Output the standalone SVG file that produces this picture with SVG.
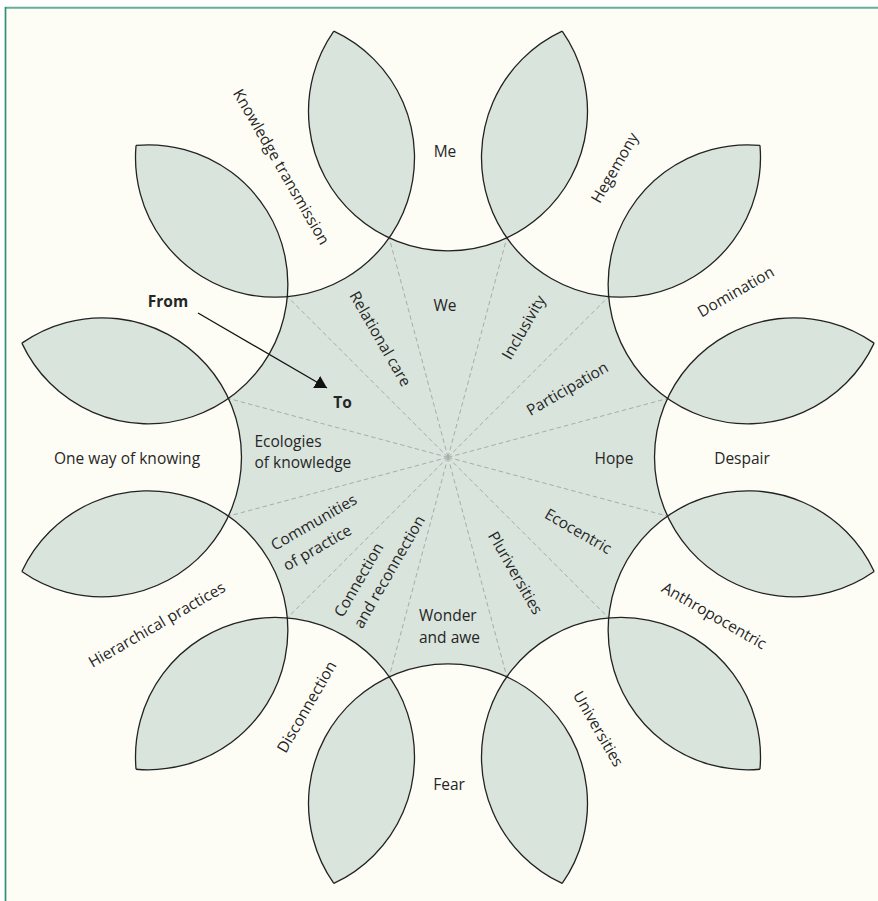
<svg xmlns="http://www.w3.org/2000/svg" width="878" height="901" viewBox="0 0 878 901">
<defs>
<style>
.bg{fill:#fdfdf6}
.fill{fill:#d9e4dc;stroke:none}
.arc{fill:none;stroke:#222;stroke-width:1.3}
.dash{stroke:#a6aeaa;stroke-width:1;stroke-dasharray:4.5 3;fill:none}
text{font-family:"Open Sans","Noto Sans","DejaVu Sans",sans-serif;font-size:15.5px;fill:#262626}
.b{font-weight:bold}
.c{text-anchor:middle}
</style>
<marker id="ah" viewBox="0 0 12 14" refX="12" refY="7" markerWidth="12" markerHeight="14" markerUnits="userSpaceOnUse" orient="auto">
<path d="M0,0 L12,7 L0,14 Z" fill="#111"/>
</marker>
</defs>
<rect x="0" y="0" width="878" height="901" fill="#ffffff"/>
<rect class="bg" x="5.5" y="7.5" width="872.5" height="893.5"/>
<line x1="5" y1="7.7" x2="878" y2="7.7" stroke="#62b09c" stroke-width="2"/>
<line x1="5.5" y1="7" x2="5.5" y2="901" stroke="#2f8f78" stroke-width="1.7"/>

<g id="shading">
<path class="fill" d="M389.18 237.79 A139.5 139.5 0 0 0 506.82 237.79 A139.5 139.5 0 0 0 608.69 296.61 A139.5 139.5 0 0 0 667.51 398.48 A139.5 139.5 0 0 0 667.51 516.12 A139.5 139.5 0 0 0 608.69 617.99 A139.5 139.5 0 0 0 506.82 676.81 A139.5 139.5 0 0 0 389.18 676.81 A139.5 139.5 0 0 0 287.31 617.99 A139.5 139.5 0 0 0 228.49 516.12 A139.5 139.5 0 0 0 228.49 398.48 A139.5 139.5 0 0 0 287.31 296.61 A139.5 139.5 0 0 0 389.18 237.79 Z"/>
<path class="fill" d="M506.82 237.79 A139.5 139.5 0 0 0 562.18 31.16 A139.5 139.5 0 0 0 506.82 237.79 Z"/>
<path class="fill" d="M608.69 296.61 A139.5 139.5 0 0 0 759.95 145.35 A139.5 139.5 0 0 0 608.69 296.61 Z"/>
<path class="fill" d="M667.51 398.48 A139.5 139.5 0 0 0 874.14 343.12 A139.5 139.5 0 0 0 667.51 398.48 Z"/>
<path class="fill" d="M667.51 516.12 A139.5 139.5 0 0 0 874.14 571.48 A139.5 139.5 0 0 0 667.51 516.12 Z"/>
<path class="fill" d="M608.69 617.99 A139.5 139.5 0 0 0 759.95 769.25 A139.5 139.5 0 0 0 608.69 617.99 Z"/>
<path class="fill" d="M506.82 676.81 A139.5 139.5 0 0 0 562.18 883.44 A139.5 139.5 0 0 0 506.82 676.81 Z"/>
<path class="fill" d="M389.18 676.81 A139.5 139.5 0 0 0 333.82 883.44 A139.5 139.5 0 0 0 389.18 676.81 Z"/>
<path class="fill" d="M287.31 617.99 A139.5 139.5 0 0 0 136.05 769.25 A139.5 139.5 0 0 0 287.31 617.99 Z"/>
<path class="fill" d="M228.49 516.12 A139.5 139.5 0 0 0 21.86 571.48 A139.5 139.5 0 0 0 228.49 516.12 Z"/>
<path class="fill" d="M228.49 398.48 A139.5 139.5 0 0 0 21.86 343.12 A139.5 139.5 0 0 0 228.49 398.48 Z"/>
<path class="fill" d="M287.31 296.61 A139.5 139.5 0 0 0 136.05 145.35 A139.5 139.5 0 0 0 287.31 296.61 Z"/>
<path class="fill" d="M389.18 237.79 A139.5 139.5 0 0 0 333.82 31.16 A139.5 139.5 0 0 0 389.18 237.79 Z"/>
</g>

<g id="connectors">
<line class="dash" x1="448" y1="457.3" x2="506.82" y2="237.79"/>
<line class="dash" x1="448" y1="457.3" x2="608.69" y2="296.61"/>
<line class="dash" x1="448" y1="457.3" x2="667.51" y2="398.48"/>
<line class="dash" x1="448" y1="457.3" x2="667.51" y2="516.12"/>
<line class="dash" x1="448" y1="457.3" x2="608.69" y2="617.99"/>
<line class="dash" x1="448" y1="457.3" x2="506.82" y2="676.81"/>
<line class="dash" x1="448" y1="457.3" x2="389.18" y2="676.81"/>
<line class="dash" x1="448" y1="457.3" x2="287.31" y2="617.99"/>
<line class="dash" x1="448" y1="457.3" x2="228.49" y2="516.12"/>
<line class="dash" x1="448" y1="457.3" x2="228.49" y2="398.48"/>
<line class="dash" x1="448" y1="457.3" x2="287.31" y2="296.61"/>
<line class="dash" x1="448" y1="457.3" x2="389.18" y2="237.79"/>
<line id="from-to-arrow" x1="198" y1="313" x2="327" y2="388" stroke="#111" stroke-width="1.3" marker-end="url(#ah)"/>
</g>

<g id="node-me"><path class="arc" d="M333.82 31.16 A139.5 139.5 0 1 0 562.18 31.16"/><text class="c" x="445" y="157">Me</text></g>
<g id="node-hegemony"><path class="arc" d="M562.18 31.16 A139.5 139.5 0 1 0 759.95 145.35"/><text class="c" dy="5" transform="translate(615 168) rotate(-60)">Hegemony</text></g>
<g id="node-domination"><path class="arc" d="M759.95 145.35 A139.5 139.5 0 1 0 874.14 343.12"/><text class="c" dy="5" transform="translate(736 292) rotate(-30)">Domination</text></g>
<g id="node-despair"><path class="arc" d="M874.14 343.12 A139.5 139.5 0 1 0 874.14 571.48"/><text class="c" x="742" y="464">Despair</text></g>
<g id="node-anthropocentric"><path class="arc" d="M874.14 571.48 A139.5 139.5 0 1 0 759.95 769.25"/><text class="c" dy="5" transform="translate(714 616) rotate(30)">Anthropocentric</text></g>
<g id="node-universities"><path class="arc" d="M759.95 769.25 A139.5 139.5 0 1 0 562.18 883.44"/><text class="c" dy="5" transform="translate(598 729) rotate(60)">Universities</text></g>
<g id="node-fear"><path class="arc" d="M562.18 883.44 A139.5 139.5 0 1 0 333.82 883.44"/><text class="c" x="449" y="790">Fear</text></g>
<g id="node-disconnection"><path class="arc" d="M333.82 883.44 A139.5 139.5 0 1 0 136.05 769.25"/><text class="c" dy="5" transform="translate(307 707) rotate(-60)">Disconnection</text></g>
<g id="node-hierarchical"><path class="arc" d="M136.05 769.25 A139.5 139.5 0 1 0 21.86 571.48"/><text class="c" dy="5" transform="translate(157 625) rotate(-30)">Hierarchical practices</text></g>
<g id="node-one-way"><path class="arc" d="M21.86 571.48 A139.5 139.5 0 1 0 21.86 343.12"/><text class="c" x="127" y="464">One way of knowing</text></g>
<g id="node-from"><path class="arc" d="M21.86 343.12 A139.5 139.5 0 1 0 136.05 145.35"/><text class="c b" x="168" y="306.5">From</text></g>
<g id="node-knowledge-transmission"><path class="arc" d="M136.05 145.35 A139.5 139.5 0 1 0 333.82 31.16"/><text class="c" dy="5" transform="translate(281 167) rotate(60)">Knowledge transmission</text></g>

<g id="node-we"><text class="c" x="445" y="310.5">We</text></g>
<g id="node-inclusivity"><text class="c" dy="5" transform="translate(524 327.5) rotate(-60)">Inclusivity</text></g>
<g id="node-participation"><text class="c" dy="5" transform="translate(567.5 389) rotate(-30)">Participation</text></g>
<g id="node-hope"><text class="c" x="614" y="464">Hope</text></g>
<g id="node-ecocentric"><text class="c" dy="5" transform="translate(578 531.5) rotate(30)">Ecocentric</text></g>
<g id="node-pluriversities"><text class="c" dy="5" transform="translate(515 573) rotate(60)">Pluriversities</text></g>
<g id="node-wonder"><text x="419" y="620.5">Wonder</text><text x="419" y="642.5">and awe</text></g>
<g id="node-connection"><text class="c" dy="5" transform="translate(359 580) rotate(-60)">Connection</text><text class="c" dy="5" transform="translate(389.5 572) rotate(-60)">and reconnection</text></g>
<g id="node-communities"><text class="c" dy="5" transform="translate(314 522.5) rotate(-30)">Communities</text><text class="c" dy="5" transform="translate(317.5 548) rotate(-30)">of practice</text></g>
<g id="node-ecologies"><text x="254.5" y="446.5">Ecologies</text><text x="254.5" y="468">of knowledge</text></g>
<g id="node-to"><text class="c b" x="342.5" y="408">To</text></g>
<g id="node-relational"><text class="c" dy="5" transform="translate(380 339) rotate(60)">Relational care</text></g>
</svg>
